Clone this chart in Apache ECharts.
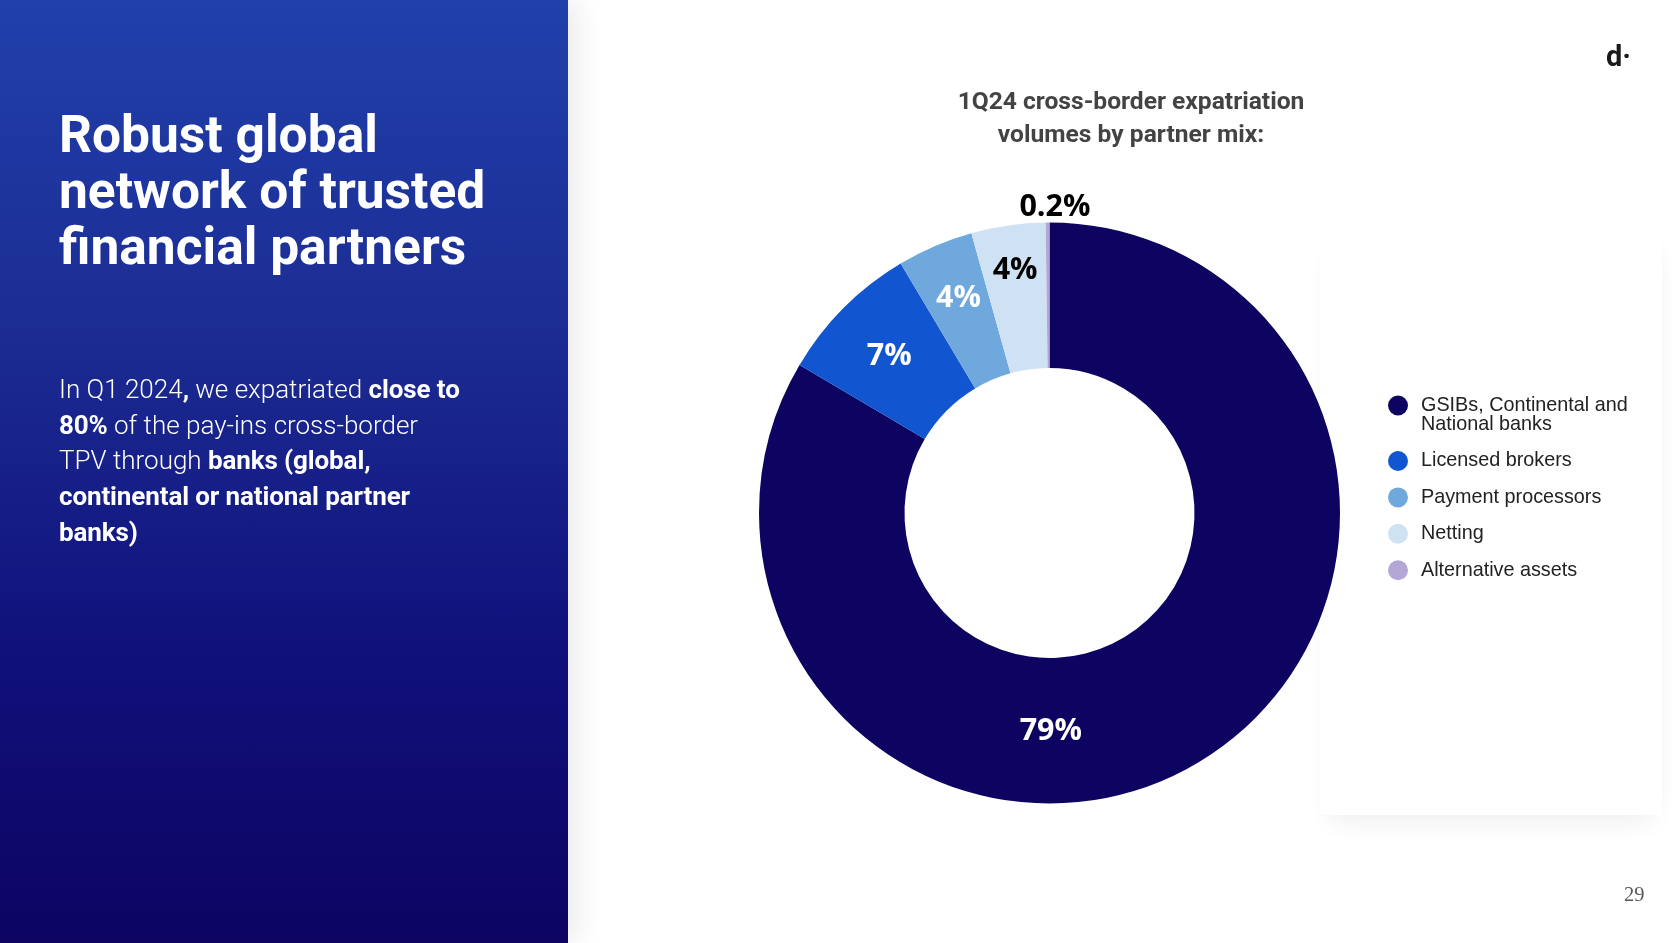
<!DOCTYPE html>
<html>
<head>
<meta charset="utf-8">
<title>Partner mix</title>
<script src="https://cdn.jsdelivr.net/npm/echarts@6/dist/echarts.min.js"></script>
<style>
html, body { margin: 0; padding: 0; width: 1680px; height: 943px; overflow: hidden; background: #fff; font-family: Roboto, sans-serif; }
#panel { position: absolute; left: 0; top: 0; width: 568px; height: 943px; color: #fff;
    background: linear-gradient(180deg, #2140ab 0%, #1b2c93 35%, #10107a 70%, #0d0462 100%);
    box-shadow: 6px 0 30px rgba(0,0,0,0.10); z-index: 2; }
#panel h1 { position: absolute; left: 59px; top: 107px; margin: 0; font-size: 51.5px; line-height: 55.8px; font-weight: 700; letter-spacing: 0; }
#panel p { position: absolute; left: 59px; top: 372px; margin: 0; font-size: 26px; line-height: 35.7px; font-weight: 300; letter-spacing: 0; }
#panel p b { font-weight: 700; letter-spacing: -0.12px; }
#card { position: absolute; left: 1320px; top: 235px; width: 342px; height: 580px; background: #fff;
    box-shadow: 0 16px 24px -10px rgba(0,0,0,0.07), 10px 0 16px -10px rgba(0,0,0,0.03); }
#main { position: absolute; left: 0; top: 0; width: 1680px; height: 943px; z-index: 1; }
#logo { position: absolute; left: 1606px; top: 39px; font-size: 29px; font-weight: 700; color: #1a1a1a; z-index: 3; }
#page { position: absolute; left: 1624px; top: 883px; font-family: "Liberation Serif", serif; font-size: 20.5px; color: #595959; z-index: 3; }
</style>
</head>
<body>
<div id="card"></div>
<div id="main"></div>
<div id="panel">
    <h1>Robust global<br>network of trusted<br>financial partners</h1>
    <p>In Q1 2024<b>,</b> we expatriated <b>close to</b><br><b>80%</b> of the pay-ins cross-border<br>TPV through <b>banks (global,</b><br><b>continental or national partner</b><br><b>banks)</b></p>
</div>
<div id="logo">d·</div>
<div id="page">29</div>
<script>
var partners = ['GSIBs, Continental and\nNational banks', 'Licensed brokers', 'Payment processors', 'Netting', 'Alternative assets'];
var shares = [79, 7.5, 4, 3.9, 0.2];
var shareLabels = ['79%', '7%', '4%', '4%', '0.2%'];
var colors = ['#0d0462', '#1156d0', '#6fa8dc', '#cfe2f3', '#b4a7d6'];
var labelColors = ['#fff', '#fff', '#fff', '#000', '#000'];

// labels were placed by hand on the slide, not on the slice centres
var labelNudge = [[-108, 27], [-4, -1], [-4, -12], [-3, -24], [78, 0]];

var pieData = [];
for (var i = 0; i < partners.length; i++) {
    pieData.push({
        name: partners[i],
        value: shares[i],
        itemStyle: { color: colors[i] },
        label: { color: labelColors[i], formatter: shareLabels[i] }
    });
}
// 0.2% sits outside the ring, all the others inside
pieData[4].label.position = 'outside';
pieData[4].labelLine = { show: false };

var legendText = { fontFamily: 'Liberation Sans', fontSize: 19.8, lineHeight: 19.5, color: '#222', padding: [0, 0, 0, 8] };

var chart = echarts.init(document.getElementById('main'));
chart.setOption({
    animation: false,
    title: {
        text: '1Q24 cross-border expatriation\nvolumes by partner mix:',
        left: 1126,
        top: 81,
        textAlign: 'center',
        textStyle: { fontFamily: 'Roboto', fontSize: 24.6, fontWeight: 700, color: '#434343', lineHeight: 33 }
    },
    // two legends: the first name has two lines and its dot stays level with the first one
    legend: [{
        orient: 'vertical',
        left: 1383,
        top: 371,
        icon: 'circle',
        itemWidth: 20,
        itemHeight: 20,
        data: partners.slice(0, 1),
        // blank line on top keeps the text centred on the dot at the first real line
        formatter: function (name) { return '\n' + name; },
        textStyle: legendText
    }, {
        orient: 'vertical',
        left: 1383,
        top: 446,
        icon: 'circle',
        itemWidth: 20,
        itemHeight: 20,
        itemGap: 16.4,
        data: partners.slice(1),
        textStyle: legendText
    }],
    series: [{
        type: 'pie',
        center: [1049.5, 513],
        radius: [145, 290.5],
        startAngle: 90,
        clockwise: true,
        avoidLabelOverlap: false,
        label: {
            position: 'inside',
            fontFamily: 'Open Sans',
            fontSize: 30.5,
            fontWeight: 700
        },
        labelLine: { show: false },
        labelLayout: function (params) {
            var nudge = labelNudge[params.dataIndex];
            return { dx: nudge[0], dy: nudge[1] };
        },
        data: pieData
    }]
});
</script>
</body>
</html>
